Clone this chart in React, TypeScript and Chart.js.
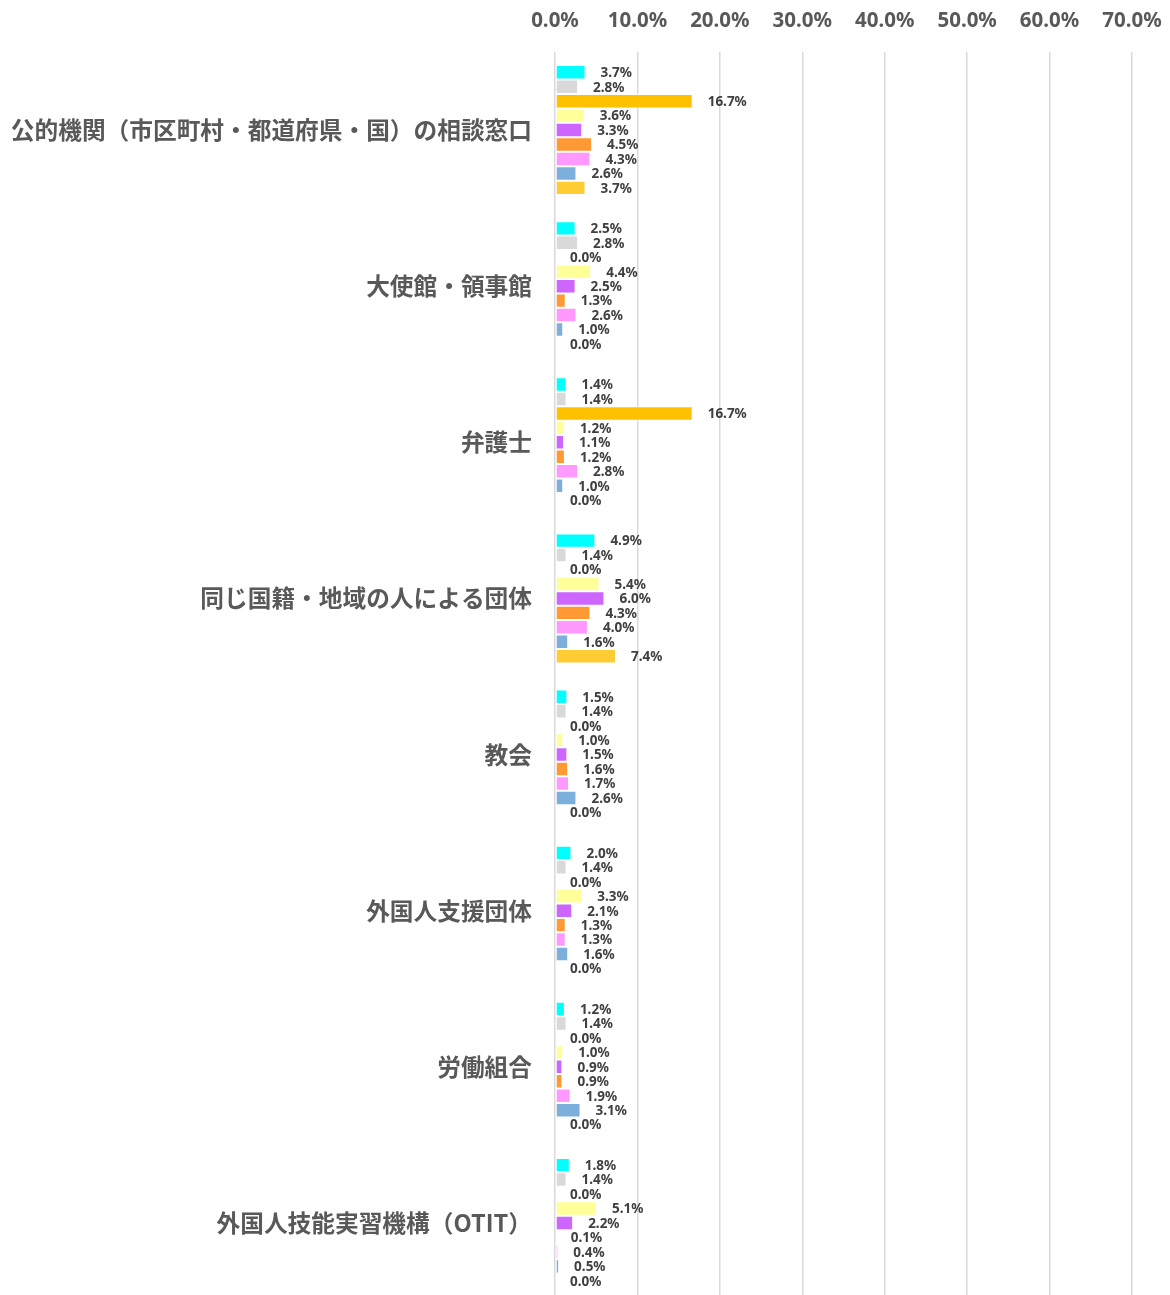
import React, { useEffect, useRef } from "react";
import { Chart, registerables } from "chart.js";

Chart.register(...registerables);

const categories = [
  "公的機関（市区町村・都道府県・国）の相談窓口",
  "大使館・領事館",
  "弁護士",
  "同じ国籍・地域の人による団体",
  "教会",
  "外国人支援団体",
  "労働組合",
  "外国人技能実習機構（OTIT）",
];

const seriesNames = ["系列1", "系列2", "系列3", "系列4", "系列5", "系列6", "系列7", "系列8", "系列9"];

const series1 = [3.7, 2.5, 1.4, 4.9, 1.5, 2.0, 1.2, 1.8];
const series2 = [2.8, 2.8, 1.4, 1.4, 1.4, 1.4, 1.4, 1.4];
const series3 = [16.7, 0.0, 16.7, 0.0, 0.0, 0.0, 0.0, 0.0];
const series4 = [3.6, 4.4, 1.2, 5.4, 1.0, 3.3, 1.0, 5.1];
const series5 = [3.3, 2.5, 1.1, 6.0, 1.5, 2.1, 0.9, 2.2];
const series6 = [4.5, 1.3, 1.2, 4.3, 1.6, 1.3, 0.9, 0.1];
const series7 = [4.3, 2.6, 2.8, 4.0, 1.7, 1.3, 1.9, 0.4];
const series8 = [2.6, 1.0, 1.0, 1.6, 2.6, 1.6, 3.1, 0.5];
const series9 = [3.7, 0.0, 0.0, 7.4, 0.0, 0.0, 0.0, 0.0];

const seriesValues = [series1, series2, series3, series4, series5, series6, series7, series8, series9];

const seriesColors = [
  "#00FFFF",
  "#D9D9D9",
  "#FFC000",
  "#FFFF99",
  "#CC66FF",
  "#FF9933",
  "#FF99FF",
  "#7DAFDD",
  "#FFCC33",
];

const xTicks = [0, 10, 20, 30, 40, 50, 60, 70];

const NUM_FONT = '"Noto Sans", "Open Sans", sans-serif';
const CJK_FONT = '"Noto Sans CJK JP", "Noto Sans", sans-serif';

const labelPlugin = {
  id: "barValueLabels",
  afterDatasetsDraw(chart: any) {
    const ctx = chart.ctx;
    ctx.save();
    ctx.font = `bold 13.5px ${NUM_FONT}`;
    ctx.fillStyle = "#404040";
    ctx.textAlign = "left";
    ctx.textBaseline = "middle";
    chart.data.datasets.forEach((ds: any, di: number) => {
      const meta = chart.getDatasetMeta(di);
      meta.data.forEach((bar: any, i: number) => {
        const v = ds.data[i] as number;
        ctx.fillText(v.toFixed(1) + "%", bar.x + 15, bar.y + 1);
      });
    });
    ctx.restore();
  },
};

export default function App() {
  const ref = useRef<HTMLCanvasElement | null>(null);

  useEffect(() => {
    if (!ref.current) return;
    const chart = new Chart(ref.current, {
      type: "bar",
      data: {
        labels: categories,
        datasets: seriesValues.map((vals, i) => ({
          label: seriesNames[i],
          data: vals,
          backgroundColor: seriesColors[i],
          borderColor: "#FFFFFF",
          borderWidth: 1,
          borderSkipped: false,
          categoryPercentage: 0.833,
          barPercentage: 1.0,
        })),
      },
      options: {
        indexAxis: "y",
        animation: false,
        responsive: false,
        maintainAspectRatio: false,
        layout: { padding: { left: 0, right: 38, top: 0, bottom: 0 } },
        plugins: {
          legend: { display: false },
          tooltip: { enabled: false },
        },
        scales: {
          x: {
            position: "top",
            min: 0,
            max: 70,
            afterBuildTicks: (scale: any) => {
              scale.ticks = xTicks.map((v) => ({ value: v }));
            },
            afterFit: (scale: any) => {
              scale.height = 52;
              scale.paddingLeft = 0;
              scale.paddingRight = 0;
            },
            ticks: {
              callback: (v: any) => Number(v).toFixed(1) + "%",
              color: "#595959",
              font: { family: NUM_FONT, size: 20.5, weight: "bold" },
              padding: 19,
              maxRotation: 0,
            },
            grid: {
              color: "#D9D9D9",
              lineWidth: 1.5,
              drawTicks: false,
            },
            border: { display: false },
          },
          y: {
            afterFit: (scale: any) => {
              scale.width = 555;
              scale.paddingTop = 0;
              scale.paddingBottom = 0;
            },
            ticks: {
              color: "#595959",
              font: { family: CJK_FONT, size: 23.7, weight: "bold" },
              padding: 23,
            },
            grid: { display: false, drawTicks: false },
            border: { display: false },
          },
        },
      },
      plugins: [labelPlugin],
    });
    return () => chart.destroy();
  }, []);

  return (
    <div
      style={{
        position: "absolute",
        left: 0,
        top: 0,
        width: 1170,
        height: 1295,
        overflow: "hidden",
        background: "#FFFFFF",
      }}
    >
      <canvas ref={ref} width={1170} height={1301} style={{ display: "block" }} />
    </div>
  );
}
